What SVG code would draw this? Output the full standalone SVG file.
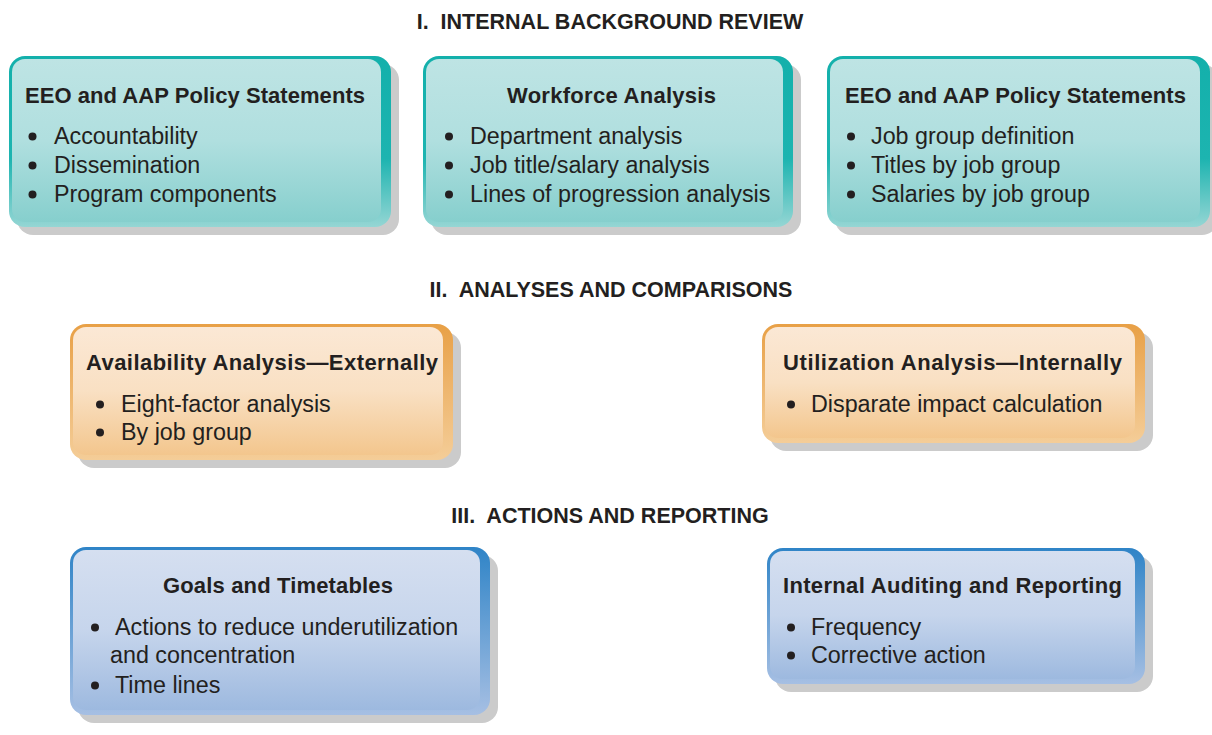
<svg xmlns="http://www.w3.org/2000/svg" width="1212" height="735" viewBox="0 0 1212 735">
<defs>
<linearGradient id="tealOuter" x1="0" y1="0" x2="0" y2="1"><stop offset="0" stop-color="#13b0ab"/><stop offset="0.6" stop-color="#1db4b0"/><stop offset="1" stop-color="#95d6d4"/></linearGradient>
<linearGradient id="tealInner" x1="0" y1="0" x2="0" y2="1"><stop offset="0" stop-color="#bee4e4"/><stop offset="0.5" stop-color="#b0dfdf"/><stop offset="1" stop-color="#86cfcd"/></linearGradient>
<linearGradient id="orangeOuter" x1="0" y1="0" x2="0" y2="1"><stop offset="0" stop-color="#e8a046"/><stop offset="1" stop-color="#f4cd98"/></linearGradient>
<linearGradient id="orangeInner" x1="0" y1="0" x2="0" y2="1"><stop offset="0" stop-color="#fbe8d5"/><stop offset="0.5" stop-color="#f9e0c3"/><stop offset="1" stop-color="#f3c68d"/></linearGradient>
<linearGradient id="blueOuter" x1="0" y1="0" x2="0" y2="1"><stop offset="0" stop-color="#2f84c7"/><stop offset="1" stop-color="#a6bfe3"/></linearGradient>
<linearGradient id="blueInner" x1="0" y1="0" x2="0" y2="1"><stop offset="0" stop-color="#d5dff0"/><stop offset="0.5" stop-color="#c6d5ec"/><stop offset="1" stop-color="#9db9df"/></linearGradient>
</defs>
<style>
.shadow{fill:#cbcbcb}
.section{font-family:"Liberation Sans",Arial,sans-serif;font-weight:bold;font-size:21.5px;fill:#231f20;text-anchor:middle;white-space:pre}
.title{font-family:"Liberation Sans",Arial,sans-serif;font-weight:bold;font-size:22px;fill:#231f20}
.item{font-family:"Liberation Sans",Arial,sans-serif;font-size:23.3px;fill:#231f20}
.dot{fill:#231f20}
</style>
<rect width="1212" height="735" fill="#ffffff"/>
<text class="section" x="610" y="29" xml:space="preserve">I.  INTERNAL BACKGROUND REVIEW</text>
<text class="section" x="611" y="297" xml:space="preserve">II.  ANALYSES AND COMPARISONS</text>
<text class="section" x="610" y="523" xml:space="preserve">III.  ACTIONS AND REPORTING</text>
<g id="connectors"/>
<g id="node-eeo-1">
<rect class="shadow" x="17" y="64" width="382" height="171" rx="16"/>
<rect x="9" y="56" width="382" height="171" rx="16" fill="url(#tealOuter)"/>
<rect x="12" y="59" width="369" height="163" rx="13" fill="url(#tealInner)"/>
<text class="title" x="25" y="103" textLength="340">EEO and AAP Policy Statements</text>
<circle class="dot" cx="32.5" cy="136.5" r="4"/><text class="item" x="54" y="144">Accountability</text>
<circle class="dot" cx="32.5" cy="165.5" r="4"/><text class="item" x="54" y="173">Dissemination</text>
<circle class="dot" cx="32.5" cy="194.5" r="4"/><text class="item" x="54" y="202">Program components</text>
</g>
<g id="node-workforce">
<rect class="shadow" x="431" y="64" width="370" height="171" rx="16"/>
<rect x="423" y="56" width="370" height="171" rx="16" fill="url(#tealOuter)"/>
<rect x="426" y="59" width="357" height="163" rx="13" fill="url(#tealInner)"/>
<text class="title" x="507" y="103" textLength="209">Workforce Analysis</text>
<circle class="dot" cx="449" cy="136.5" r="4"/><text class="item" x="470" y="144">Department analysis</text>
<circle class="dot" cx="449" cy="165.5" r="4"/><text class="item" x="470" y="173">Job title/salary analysis</text>
<circle class="dot" cx="449" cy="194.5" r="4"/><text class="item" x="470" y="202">Lines of progression analysis</text>
</g>
<g id="node-eeo-2">
<rect class="shadow" x="835" y="64" width="383" height="171" rx="16"/>
<rect x="827" y="56" width="383" height="171" rx="16" fill="url(#tealOuter)"/>
<rect x="830" y="59" width="370" height="163" rx="13" fill="url(#tealInner)"/>
<text class="title" x="845" y="103" textLength="341">EEO and AAP Policy Statements</text>
<circle class="dot" cx="851" cy="136.5" r="4"/><text class="item" x="871" y="144">Job group definition</text>
<circle class="dot" cx="851" cy="165.5" r="4"/><text class="item" x="871" y="173">Titles by job group</text>
<circle class="dot" cx="851" cy="194.5" r="4"/><text class="item" x="871" y="202">Salaries by job group</text>
</g>
<g id="node-availability">
<rect class="shadow" x="78" y="332" width="383" height="136" rx="16"/>
<rect x="70" y="324" width="383" height="136" rx="16" fill="url(#orangeOuter)"/>
<rect x="73" y="327" width="370" height="128" rx="13" fill="url(#orangeInner)"/>
<text class="title" x="86" y="370" textLength="352">Availability Analysis—Externally</text>
<circle class="dot" cx="100" cy="404.5" r="4"/><text class="item" x="121" y="412">Eight-factor analysis</text>
<circle class="dot" cx="100" cy="432.5" r="4"/><text class="item" x="121" y="440">By job group</text>
</g>
<g id="node-utilization">
<rect class="shadow" x="770" y="332" width="383" height="119" rx="16"/>
<rect x="762" y="324" width="383" height="119" rx="16" fill="url(#orangeOuter)"/>
<rect x="765" y="327" width="370" height="111" rx="13" fill="url(#orangeInner)"/>
<text class="title" x="783" y="370" textLength="339">Utilization Analysis—Internally</text>
<circle class="dot" cx="791" cy="404.5" r="4"/><text class="item" x="811" y="412">Disparate impact calculation</text>
</g>
<g id="node-goals">
<rect class="shadow" x="78" y="555" width="420" height="168" rx="16"/>
<rect x="70" y="547" width="420" height="168" rx="16" fill="url(#blueOuter)"/>
<rect x="73" y="550" width="407" height="160" rx="13" fill="url(#blueInner)"/>
<text class="title" x="163" y="593" textLength="230">Goals and Timetables</text>
<circle class="dot" cx="95" cy="627.5" r="4"/><text class="item" x="115" y="635">Actions to reduce underutilization</text>
<text class="item" x="110" y="663">and concentration</text>
<circle class="dot" cx="95" cy="685.5" r="4"/><text class="item" x="115" y="693">Time lines</text>
</g>
<g id="node-auditing">
<rect class="shadow" x="775" y="556" width="378" height="136" rx="16"/>
<rect x="767" y="548" width="378" height="136" rx="16" fill="url(#blueOuter)"/>
<rect x="770" y="551" width="365" height="128" rx="13" fill="url(#blueInner)"/>
<text class="title" x="783" y="593" textLength="339">Internal Auditing and Reporting</text>
<circle class="dot" cx="791" cy="627.5" r="4"/><text class="item" x="811" y="635">Frequency</text>
<circle class="dot" cx="791" cy="655.5" r="4"/><text class="item" x="811" y="663">Corrective action</text>
</g>
</svg>
